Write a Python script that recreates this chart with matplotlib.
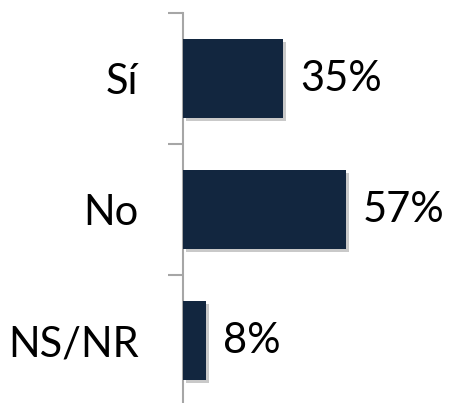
import matplotlib
matplotlib.use("Agg")
import matplotlib.pyplot as plt
import matplotlib.patheffects as pe

categories = ["Sí", "No", "NS/NR"]
values = [35, 57, 8]
value_labels = ["35%", "57%", "8%"]

plt.rcParams['font.family'] = ['Lato', 'DejaVu Sans']

W, H = 449, 403
fig = plt.figure(figsize=(W / 100, H / 100), dpi=100)
left_px, top_px, bottom_px = 183, 13, 406
ax = fig.add_axes([left_px / W, (H - bottom_px) / H, 1 - left_px / W, (bottom_px - top_px) / H])

bar_color = "#12263F"
ypos = list(range(len(categories)))
bars = ax.barh(ypos, values, height=0.6, color=bar_color, zorder=3)
for b in bars:
    b.set_path_effects([pe.SimplePatchShadow(offset=(2, -2), shadow_rgbFace="#888888", alpha=0.45), pe.Normal()])

ax.set_xlim(0, (W - left_px) / 2.857)
ax.set_ylim(len(categories) - 0.5, -0.5)

for y, v, lab in zip(ypos, values, value_labels):
    ax.annotate(lab, (v, y), xytext=(17, 0), textcoords="offset pixels",
                ha="left", va="center", fontsize=30, color="black")

for s in ["top", "right", "bottom"]:
    ax.spines[s].set_visible(False)
ax.spines["left"].set_color("#A6A6A6")
ax.spines["left"].set_linewidth(1.5)
ax.set_xticks([])
ax.set_yticks(ypos)
ax.set_yticklabels(categories, fontsize=30)
ax.tick_params(axis="y", which="major", length=0, pad=32)
ax.set_yticks([y - 0.5 for y in ypos] + [len(categories) - 0.5], minor=True)
ax.tick_params(axis="y", which="minor", length=10.8, width=1.5, color="#A6A6A6")
ax.patch.set_alpha(0)

fig.savefig("out.png", dpi=100)
